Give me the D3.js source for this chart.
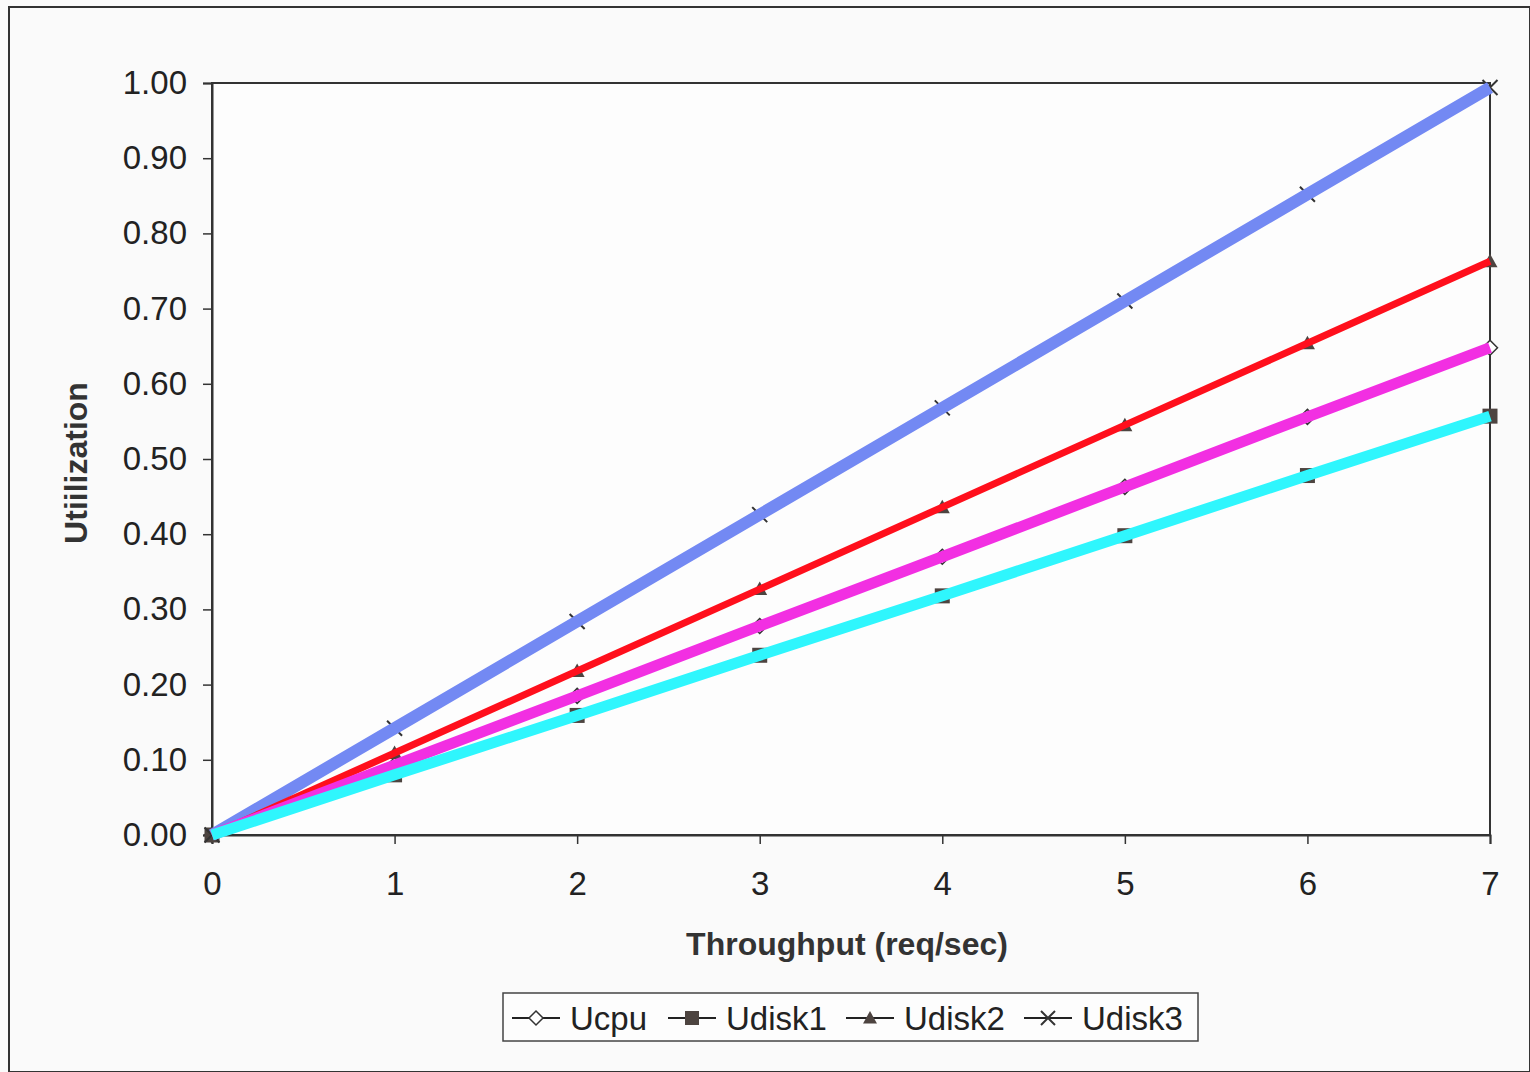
<!DOCTYPE html>
<html>
<head>
<meta charset="utf-8">
<script src="https://cdn.jsdelivr.net/npm/d3@7"></script>
<style>
  body { margin: 0; background: #fafafa; overflow: hidden; }
  svg { display: block; font-family: "Liberation Sans", Arial, sans-serif; }
</style>
</head>
<body>
<div id="chart"></div>
<script>
// Data
const throughput = [0, 1, 2, 3, 4, 5, 6, 7];
const ucpu   = [0, 0.093, 0.185, 0.278, 0.370, 0.463, 0.556, 0.648];
const udisk1 = [0, 0.080, 0.159, 0.239, 0.318, 0.398, 0.478, 0.557];
const udisk2 = [0, 0.109, 0.218, 0.327, 0.436, 0.545, 0.654, 0.763];
const udisk3 = [0, 0.142, 0.284, 0.426, 0.568, 0.710, 0.852, 0.994];
const yTicks = [0, 0.1, 0.2, 0.3, 0.4, 0.5, 0.6, 0.7, 0.8, 0.9, 1.0];

const series = [
    {name: "Ucpu",   values: ucpu,   marker: "diamond",  color: "#f22fe2", width: 11},
    {name: "Udisk1", values: udisk1, marker: "square",   color: "#2ff6fd", width: 11},
    {name: "Udisk2", values: udisk2, marker: "triangle", color: "#ff0f1c", width: 7},
    {name: "Udisk3", values: udisk3, marker: "cross",    color: "#7389f3", width: 12}
];
// order the coloured overlay lines are drawn in
const lineOrder = ["Udisk3", "Udisk2", "Ucpu", "Udisk1"];

const width = 1530;
const height = 1072;
const margin = {top: 83, left: 212, right: 40, bottom: 237};
const innerWidth = width - margin.left - margin.right;
const innerHeight = height - margin.top - margin.bottom;

const svg = d3.select("#chart")
    .append("svg")
        .attr("width", width)
        .attr("height", height);

// outer frame (right and bottom edges sit on the page edge)
svg.append("rect")
    .attr("x", 9).attr("y", 7)
    .attr("width", width - 9).attr("height", height - 7)
    .attr("fill", "#fafafa")
    .attr("stroke", "#333")
    .attr("stroke-width", 2);

const innerChart = svg.append("g")
    .attr("transform", `translate(${margin.left}, ${margin.top})`);

const xScale = d3.scaleLinear().domain([0, 7]).range([0, innerWidth]);
const yScale = d3.scaleLinear().domain([0, 1]).range([innerHeight, 0]);

// plot area
innerChart.append("rect")
    .attr("width", innerWidth).attr("height", innerHeight)
    .attr("fill", "#fdfdfd")
    .attr("stroke", "#333")
    .attr("stroke-width", 2);

// axes
const leftAxis = d3.axisLeft(yScale)
    .tickValues(yTicks)
    .tickFormat(d3.format(".2f"))
    .tickSize(9)
    .tickPadding(16);
innerChart.append("g")
    .attr("class", "axis-y")
    .call(leftAxis);

const bottomAxis = d3.axisBottom(xScale)
    .tickValues(throughput)
    .tickFormat(d3.format("d"))
    .tickSize(9)
    .tickPadding(28);
innerChart.append("g")
    .attr("class", "axis-x")
    .attr("transform", `translate(0, ${innerHeight})`)
    .call(bottomAxis);

svg.selectAll(".axis-y path, .axis-x path").attr("stroke", "#333").attr("stroke-width", 2);
svg.selectAll(".tick line").attr("stroke", "#333").attr("stroke-width", 1.5);
svg.selectAll(".tick text")
    .style("font-size", "33px")
    .attr("fill", "#222");

// axis titles
svg.append("text")
    .attr("x", margin.left + innerWidth / 2 - 4)
    .attr("y", 955)
    .attr("text-anchor", "middle")
    .style("font-size", "32px")
    .style("font-weight", "bold")
    .attr("fill", "#333")
    .text("Throughput (req/sec)");

svg.append("text")
    .attr("transform", `translate(87, ${margin.top + innerHeight / 2 + 4}) rotate(-90)`)
    .attr("text-anchor", "middle")
    .style("font-size", "32px")
    .style("font-weight", "bold")
    .attr("fill", "#333")
    .text("Utiilization");

// marker shapes
const drawMarker = (g, type, size) => {
    const s = size / 2;
    if (type === "diamond") {
        g.append("path")
            .attr("d", `M0,${-s} L${s},0 L0,${s} L${-s},0 Z`)
            .attr("fill", "#fff").attr("stroke", "#333").attr("stroke-width", 1.5);
    } else if (type === "square") {
        g.append("rect")
            .attr("x", -s).attr("y", -s).attr("width", size).attr("height", size)
            .attr("fill", "#4d4440");
    } else if (type === "triangle") {
        g.append("path")
            .attr("d", `M0,${-s} L${s},${s * 0.8} L${-s},${s * 0.8} Z`)
            .attr("fill", "#4d4440");
    } else {
        g.append("path")
            .attr("d", `M${-s},${-s} L${s},${s} M${s},${-s} L${-s},${s}`)
            .attr("stroke", "#333").attr("stroke-width", 2);
    }
};

// markers of the original data (beneath the coloured lines)
series.forEach(s => {
    s.values.forEach((v, i) => {
        const g = innerChart.append("g")
            .attr("transform", `translate(${xScale(throughput[i])}, ${yScale(v)})`);
        drawMarker(g, s.marker, 15);
    });
});

// coloured lines
const line = d3.line()
    .x((d, i) => xScale(throughput[i]))
    .y(d => yScale(d));

lineOrder.forEach(name => {
    const s = series.find(d => d.name === name);
    innerChart.append("path")
        .datum(s.values)
        .attr("d", line)
        .attr("fill", "none")
        .attr("stroke", s.color)
        .attr("stroke-width", s.width)
        .attr("stroke-linecap", "butt");
});

// legend
const legend = svg.append("g").attr("transform", "translate(503, 993)");
legend.append("rect")
    .attr("width", 695).attr("height", 48)
    .attr("fill", "#fdfdfd")
    .attr("stroke", "#444")
    .attr("stroke-width", 1.5);

const legendX = [9, 165, 343, 521];
series.forEach((s, i) => {
    const item = legend.append("g").attr("transform", `translate(${legendX[i]}, 25)`);
    item.append("line")
        .attr("x1", 0).attr("x2", 48)
        .attr("stroke", "#222").attr("stroke-width", 2);
    const m = item.append("g").attr("transform", "translate(24, 0)");
    drawMarker(m, s.marker, 14);
    item.append("text")
        .attr("x", 58).attr("y", 12)
        .style("font-size", "33px")
        .attr("fill", "#222")
        .text(s.name);
});
</script>
</body>
</html>
